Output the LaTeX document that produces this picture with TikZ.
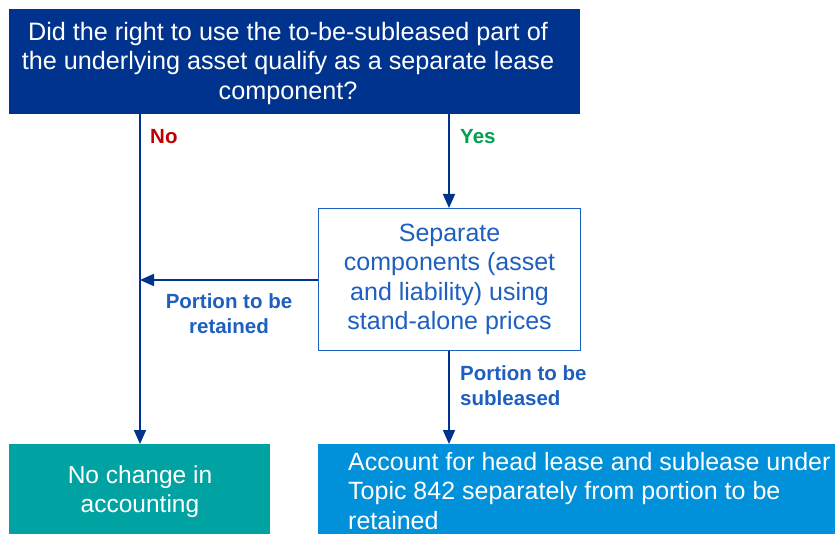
\documentclass[tikz,border=0pt]{standalone}
\usepackage{fontspec}
\setmainfont{Liberation Sans}
\usetikzlibrary{arrows.meta}
\definecolor{kdark}{HTML}{00338D}
\definecolor{kmid}{HTML}{1E5FBF}
\definecolor{kteal}{HTML}{00A3A1}
\definecolor{klight}{HTML}{0091DA}
\definecolor{kred}{HTML}{C00000}
\definecolor{kgreen}{HTML}{00A04F}
\tikzset{
  flow/.style={draw=kdark, line width=1.7pt, -{Triangle[length=14pt,width=12pt]}},
  lbl/.style={font=\fontsize{20.5}{25}\selectfont\bfseries, inner sep=0pt},
  boxtext/.style={font=\fontsize{25}{29.5}\selectfont, text=white, inner sep=0pt},
}
\begin{document}
\begin{tikzpicture}[x=1pt,y=-1pt]
\useasboundingbox (0,0) rectangle (835,534);
% top box
\node[fill=kdark, minimum width=571pt, minimum height=105pt, anchor=north west, inner sep=0pt] (q) at (9,9) {};
\node[boxtext, align=center, font=\fontsize{25.2}{29.5}\selectfont] (qt) at (288,63) {Did the right to use the to-be-subleased part of\\the underlying asset qualify as a separate lease\\component?};
% middle box
\node[draw=kmid, line width=1.2pt, fill=white, minimum width=262pt, minimum height=142pt, anchor=north west, inner sep=0pt, align=center, text=kmid, font=\fontsize{25}{29.5}\selectfont] (sep) at (318,208) {Separate\\components (asset\\and liability) using\\stand-alone prices};
% bottom boxes
\node[fill=kteal, minimum width=261pt, minimum height=90pt, anchor=north west, inner sep=0pt] (nc) at (9,444) {};
\node[boxtext, align=center, font=\fontsize{24.5}{28.5}\selectfont] (nct) at (140,491.5) {No change in\\accounting};
\node[fill=klight, minimum width=517pt, minimum height=90pt, anchor=north west, inner sep=0pt] (acc) at (318,444) {};
\node[boxtext, align=left, anchor=west, font=\fontsize{25}{29.5}\selectfont] (acct) at (348,491) {Account for head lease and sublease under\\Topic 842 separately from portion to be\\retained};
% connectors
\coordinate (nob) at (140,114);
\coordinate (noe) at (140,444);
\coordinate (yb) at (449,114);
\coordinate (le) at (140,280);
\draw[flow] (nob) -- (noe);
\draw[flow] (yb) -- (sep.north -| yb);
\draw[flow] (sep.west |- le) -- (le);
\draw[flow] (sep.south -| yb) -- (acc.north -| yb);
% labels
\node[lbl, text=kred, anchor=west] (no) at (150,137) {No};
\node[lbl, text=kgreen, anchor=west] (yes) at (460,137) {Yes};
\node[lbl, text=kmid, align=center] (ret) at (229,313.5) {Portion to be\\retained};
\node[lbl, text=kmid, align=left, anchor=west] (sub) at (460,385.5) {Portion to be\\subleased};
\end{tikzpicture}
\end{document}
